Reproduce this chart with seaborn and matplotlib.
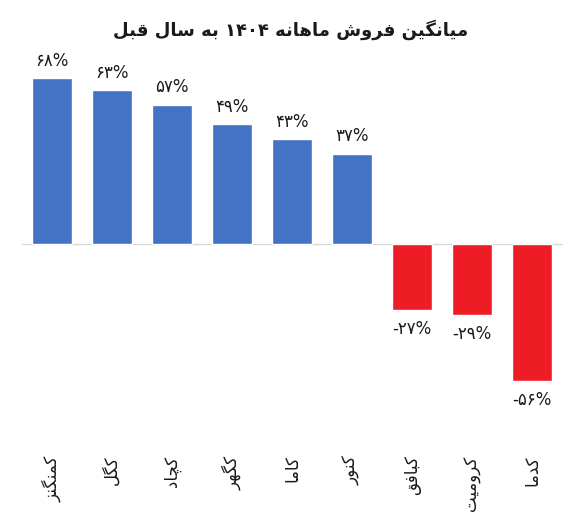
import matplotlib
matplotlib.use("Agg")
import matplotlib.pyplot as plt
import seaborn as sns
import pandas as pd

# data
stocks = ["کمنگنز", "کگل", "کچاد", "کگهر", "کاما", "کنور", "کبافق", "کرومیت", "کدما"]
change = [68, 63, 57, 49, 43, 37, -27, -29, -56]
title = "میانگین فروش ماهانه ۱۴۰۴ به سال قبل"

# simple persian shaping (matplotlib has no shaping / bidi)
FORMS = {
    "ا": ("\uFE8D", "\uFE8E", None, None),
    "ب": ("\uFE8F", "\uFE90", "\uFE91", "\uFE92"),
    "ت": ("\uFE95", "\uFE96", "\uFE97", "\uFE98"),
    "د": ("\uFEA9", "\uFEAA", None, None),
    "ر": ("\uFEAD", "\uFEAE", None, None),
    "ز": ("\uFEAF", "\uFEB0", None, None),
    "س": ("\uFEB1", "\uFEB2", "\uFEB3", "\uFEB4"),
    "ش": ("\uFEB5", "\uFEB6", "\uFEB7", "\uFEB8"),
    "ف": ("\uFED1", "\uFED2", "\uFED3", "\uFED4"),
    "ق": ("\uFED5", "\uFED6", "\uFED7", "\uFED8"),
    "ل": ("\uFEDD", "\uFEDE", "\uFEDF", "\uFEE0"),
    "م": ("\uFEE1", "\uFEE2", "\uFEE3", "\uFEE4"),
    "ن": ("\uFEE5", "\uFEE6", "\uFEE7", "\uFEE8"),
    "ه": ("\uFEE9", "\uFEEA", "\uFEEB", "\uFEEC"),
    "و": ("\uFEED", "\uFEEE", None, None),
    "ی": ("\uFBFC", "\uFBFD", "\uFBFE", "\uFBFF"),
    "ک": ("\uFB8E", "\uFB8F", "\uFB90", "\uFB91"),
    "گ": ("\uFB92", "\uFB93", "\uFB94", "\uFB95"),
    "چ": ("\uFB7A", "\uFB7B", "\uFB7C", "\uFB7D"),
}


def shape_word(w):
    out = []
    for i, ch in enumerate(w):
        if ch not in FORMS:
            out.append(ch)
            continue
        prev = w[i - 1] if i > 0 else None
        nxt = w[i + 1] if i + 1 < len(w) else None
        join_prev = prev in FORMS and FORMS[prev][2] is not None
        join_next = nxt in FORMS and FORMS[ch][2] is not None
        iso, fin, ini, med = FORMS[ch]
        if join_prev and join_next:
            out.append(med)
        elif join_prev:
            out.append(fin)
        elif join_next:
            out.append(ini)
        else:
            out.append(iso)
    if any(c in FORMS for c in w):
        return "".join(out)[::-1]
    return "".join(out)


def fa(text):
    return " ".join(shape_word(w) for w in text.split(" ")[::-1])


def fa_num(v):
    s = str(v).translate(str.maketrans("0123456789", "۰۱۲۳۴۵۶۷۸۹"))
    return s + "%"


df = pd.DataFrame({"stock": [fa(s) for s in stocks], "change": change})
colors = ["#4472C4" if v > 0 else "#EE1C25" for v in change]

sns.set_style("white")
plt.rcParams["font.family"] = ["DejaVu Sans"]

fig = plt.figure(figsize=(5.82, 5.21), dpi=100)
ax = fig.add_axes([0, 0.2322, 1, 0.6526])
sns.barplot(data=df, x="stock", y="change", hue="stock", palette=colors,
            legend=False, width=0.67, saturation=1, ax=ax)

for i, v in enumerate(change):
    off = 3.5 if v > 0 else -4
    ax.text(i, v + off, fa_num(v), ha="center",
            va="bottom" if v > 0 else "top", fontsize=12, color="#1a1a1a")

ax.axhline(0, xmin=0.038, xmax=0.966, color="#d9d9d9", lw=1, zorder=0)
ax.set_xlim(-0.867, 8.833)
ax.set_ylim(-63.9, 75.4)
ax.set_yticks([])
ax.set_xlabel("")
ax.set_ylabel("")
ax.tick_params(axis="x", length=0, pad=40)
plt.setp(ax.get_xticklabels(), rotation=90, fontsize=12, va="top", ha="center",
         color="#1a1a1a")
for s in ax.spines.values():
    s.set_visible(False)

fig.text(0.5, 1 - 30 / 521, fa(title), ha="center", va="center",
         fontsize=13, fontweight="bold", color="#1a1a1a")
fig.savefig("out.png", dpi=100)
